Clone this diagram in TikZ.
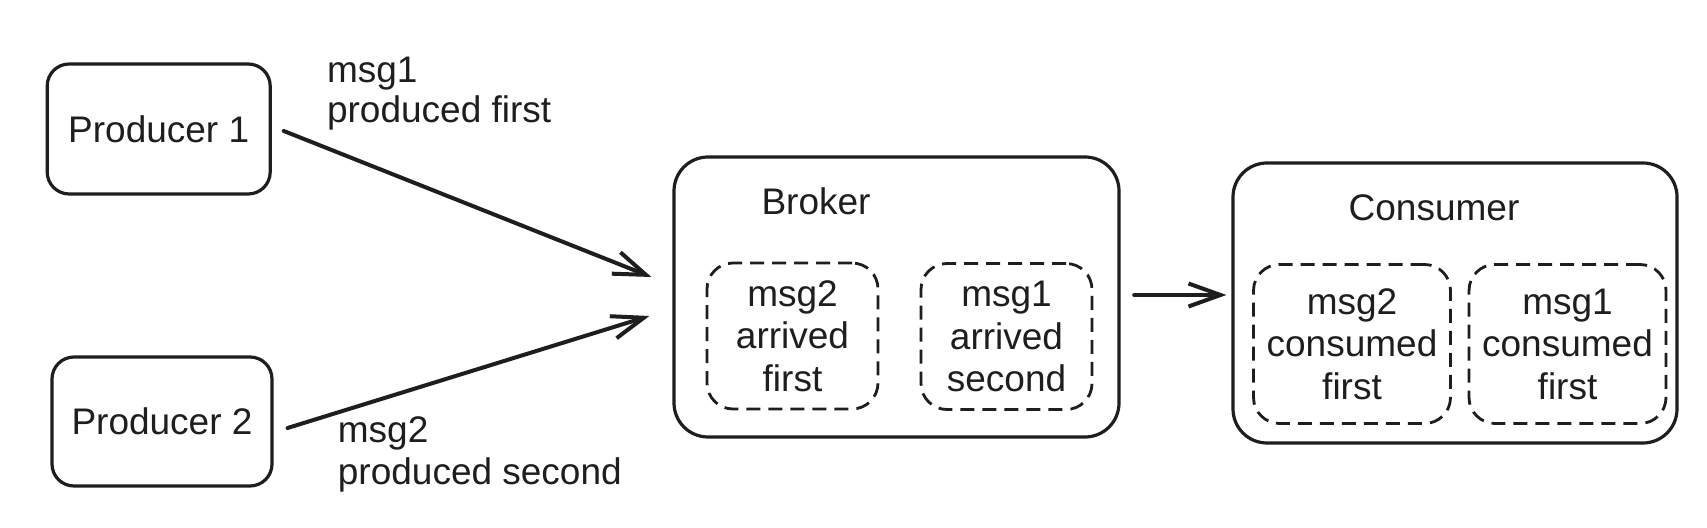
\documentclass[tikz,border=0pt]{standalone}
\usepackage{fontspec}
\setmainfont{Liberation Sans}
\usetikzlibrary{arrows.meta,calc}
\definecolor{ink}{HTML}{1E1E1E}
\begin{document}
\begin{tikzpicture}[x=0.5pt,y=-0.5pt,
  every node/.style={text=ink, font=\fontsize{18.5pt}{21.25pt}\selectfont, inner sep=0pt},
  pbox/.style={draw=ink, line width=1.6pt, rectangle, rounded corners=11pt},
  bigbox/.style={draw=ink, line width=1.6pt, rectangle, rounded corners=17pt},
  dbox/.style={draw=ink, line width=1.4pt, rectangle, rounded corners=13pt, dash pattern=on 7pt off 4pt, align=center},
  conn/.style={draw=ink, line width=2pt, line cap=round, line join=round, -{Straight Barb[length=16pt,width=11.5pt]}}]
\useasboundingbox (0,0) rectangle (1707,528);
\fill[white] (0,0) rectangle (1707,528);
% producers
\node[pbox, minimum width=111.5pt, minimum height=65pt] (p1) at (158.7,129) {Producer 1};
\node[pbox, minimum width=110pt, minimum height=64.5pt] (p2) at (162,421.5) {Producer 2};
% labels
\node[anchor=base west] (l1a) at (326.7,83) {msg1};
\node[anchor=base west] (l1b) at (326.7,123) {produced first};
\node[anchor=base west] (l2a) at (337.5,443) {msg2};
\node[anchor=base west] (l2b) at (337.5,485) {produced second};
% broker
\node[bigbox, minimum width=222.5pt, minimum height=140pt] (b) at (896.5,297) {};
\node[anchor=base] (bt) at (816,215) {Broker};
\node[dbox, minimum width=85.5pt, minimum height=73pt] (b1) at (792.5,336) {msg2\\arrived\\first};
\node[dbox, minimum width=85.5pt, minimum height=73pt] (b2) at (1006.5,336.5) {msg1\\arrived\\second};
% consumer
\node[bigbox, minimum width=222pt, minimum height=140pt] (c) at (1455,303) {};
\node[anchor=base] (ct) at (1434,221) {Consumer};
\node[dbox, minimum width=98.5pt, minimum height=79.5pt] (c1) at (1352,344) {msg2\\consumed\\first};
\node[dbox, minimum width=98.5pt, minimum height=79.5pt] (c2) at (1567.5,344) {msg1\\consumed\\first};
% connectors
\draw[conn] ($(p1.east)+(12,2)$) -- ($(b.west)+(-21,-20)$);
\draw[conn] ($(p2.east)+(14,6.5)$) -- ($(b.west)+(-23,19)$);
\draw[conn] ($(b.east)+(13.6,-2)$) -- ($(c.west)+(-5,-8)$);
\end{tikzpicture}
\end{document}
